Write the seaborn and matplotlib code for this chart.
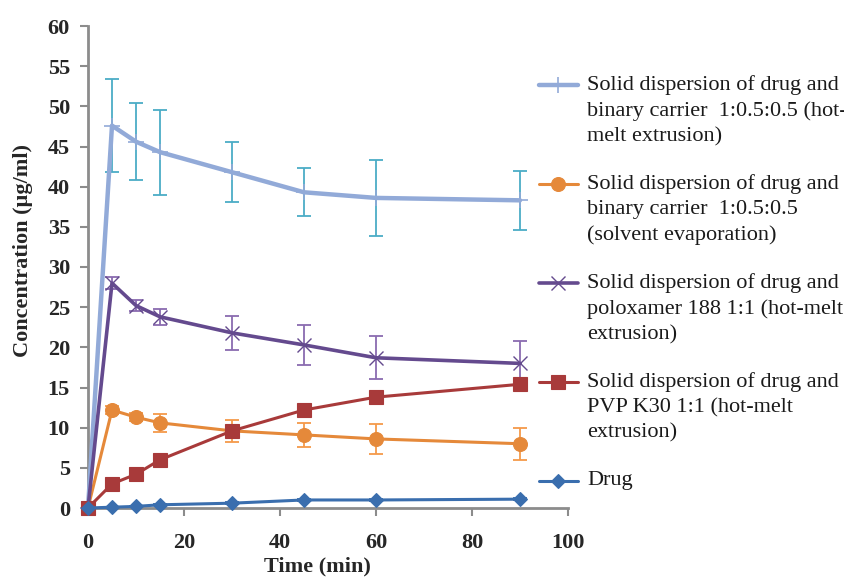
import matplotlib
matplotlib.use("Agg")
import matplotlib.pyplot as plt
from matplotlib.lines import Line2D
import seaborn as sns
import pandas as pd

# Sampling times (min)
time = [0, 5, 10, 15, 30, 45, 60, 90]

# Mean concentrations (ug/ml) and standard deviations
hme_binary = [0.0, 47.6, 45.6, 44.3, 41.8, 39.3, 38.6, 38.3]
hme_binary_sd = [0.0, 5.8, 4.8, 5.3, 3.7, 3.0, 4.7, 3.7]

se_binary = [0.0, 12.2, 11.3, 10.6, 9.6, 9.1, 8.6, 8.0]
se_binary_sd = [0.0, 0.5, 0.5, 1.1, 1.4, 1.5, 1.9, 2.0]

hme_poloxamer = [0.0, 28.0, 25.2, 23.8, 21.8, 20.3, 18.7, 18.0]
hme_poloxamer_sd = [0.0, 0.8, 0.7, 1.0, 2.1, 2.5, 2.7, 2.8]

hme_pvp = [0.0, 3.0, 4.2, 6.0, 9.6, 12.2, 13.8, 15.4]
hme_pvp_sd = [0.0, 0.2, 0.2, 0.3, 0.4, 0.3, 0.3, 0.3]

drug = [0.0, 0.1, 0.2, 0.4, 0.6, 1.0, 1.0, 1.1]
drug_sd = [0.0, 0.05, 0.05, 0.05, 0.1, 0.1, 0.1, 0.1]

labels = [
    "Solid dispersion of drug and\nbinary carrier  1:0.5:0.5 (hot-\nmelt extrusion)",
    "Solid dispersion of drug and\nbinary carrier  1:0.5:0.5\n(solvent evaporation)",
    "Solid dispersion of drug and\npoloxamer 188 1:1 (hot-melt\nextrusion)",
    "Solid dispersion of drug and\nPVP K30 1:1 (hot-melt\nextrusion)",
    "Drug",
]

means = [hme_binary, se_binary, hme_poloxamer, hme_pvp, drug]
sds = [hme_binary_sd, se_binary_sd, hme_poloxamer_sd, hme_pvp_sd, drug_sd]

styles = [
    dict(color="#92AAD8", ecolor="#4BACC6", marker="+", ms=11, mew=1.2, lw=3.2),
    dict(color="#E5893A", ecolor="#F59A4A", marker="o", ms=10, mew=0.8, lw=2.2),
    dict(color="#644A8E", ecolor="#8A6BB0", marker="x", ms=10, mew=1.0, lw=2.6),
    dict(color="#A83A3A", ecolor="#A83A3A", marker="s", ms=10, mew=0.8, lw=2.2),
    dict(color="#3A6EAE", ecolor="#3A6EAE", marker="D", ms=7, mew=0.8, lw=2.2),
]

sns.set_theme(style="white")
plt.rcParams["font.family"] = ["Liberation Serif", "DejaVu Serif"]

fig = plt.figure(figsize=(8.45, 5.77), dpi=100)
ax = fig.add_axes([88 / 845, 1 - 508 / 577, 480 / 845, 482 / 577])

for lab, m, s, st in zip(labels, means, sds, styles):
    df = pd.DataFrame({"Time": time, "Conc": m})
    ax.errorbar(time, m, yerr=s, fmt="none", ecolor=st["ecolor"],
                elinewidth=1.3, capsize=5, capthick=1.3, zorder=2)
    sns.lineplot(data=df, x="Time", y="Conc", ax=ax, color=st["color"],
                 marker=st["marker"], markersize=st["ms"],
                 markeredgewidth=st["mew"], markeredgecolor=st["color"],
                 linewidth=st["lw"], zorder=3)

ax.set_xlim(0, 100)
ax.set_ylim(0, 60)
ax.set_xticks(range(0, 101, 20))
ax.set_yticks(range(0, 61, 5))
ax.tick_params(axis="both", which="major", direction="out", length=6,
               width=1.5, color="#8C8C8C", labelsize=16, bottom=True,
               left=True)
ax.tick_params(axis="y", pad=7)
ax.tick_params(axis="x", pad=12)
for t in ax.get_xticklabels() + ax.get_yticklabels():
    t.set_fontweight("bold")
for side in ("top", "right"):
    ax.spines[side].set_visible(False)
for side in ("left", "bottom"):
    ax.spines[side].set_color("#8C8C8C")
    ax.spines[side].set_linewidth(2)
ax.set_xlabel("Time (min)", fontsize=16, fontweight="bold")
ax.set_ylabel("Concentration (µg/ml)", fontsize=16, fontweight="bold")
ax.xaxis.set_label_coords(0.479, -0.101)
ax.yaxis.set_label_coords(-0.114, 0.535)
for art in ax.lines:
    art.set_clip_on(False)

# Legend to the right of the axes
entry_y = [85, 184, 283, 382, 481]
for lab, st, yp in zip(labels, styles, entry_y):
    yf = 1 - yp / 577
    fig.add_artist(Line2D([539 / 845, 578 / 845], [yf, yf],
                          transform=fig.transFigure, color=st["color"],
                          lw=st["lw"]))
    fig.add_artist(Line2D([558.5 / 845], [yf], transform=fig.transFigure,
                          color=st["color"], marker=st["marker"],
                          markersize=st["ms"], markeredgewidth=st["mew"],
                          markeredgecolor=st["color"], linestyle="none"))
    fig.text(587 / 845, yf + 10 / 577, lab, ha="left", va="top",
             fontsize=16, linespacing=1.42, color="#1a1a1a")

fig.savefig("out.png", dpi=100)
